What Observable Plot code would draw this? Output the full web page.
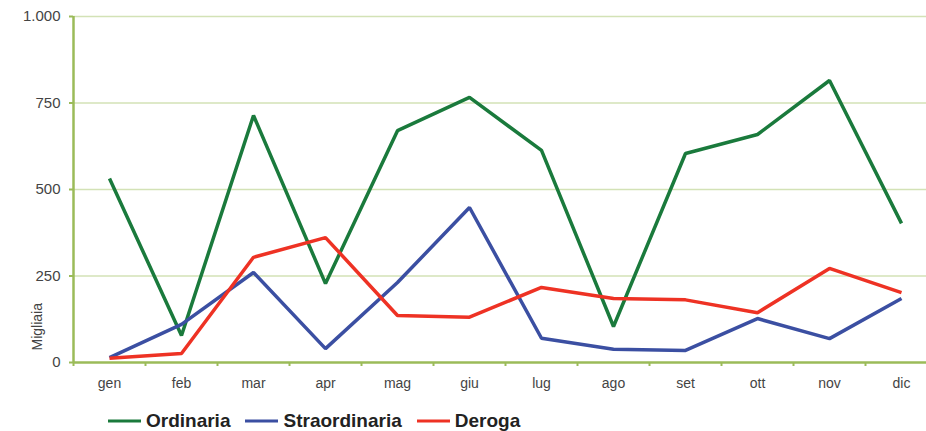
<!DOCTYPE html>
<html>
<head>
<meta charset="utf-8">
<script src="https://cdn.jsdelivr.net/npm/d3@7"></script>
<script src="https://cdn.jsdelivr.net/npm/@observablehq/plot@0.6"></script>
<style>
  html, body { margin: 0; padding: 0; background: #fff; overflow: hidden; }
  #chart { width: 926px; }
  .legend { display: flex; align-items: center; margin-left: 108px; margin-top: 6px; height: 26px;
    font-family: "Liberation Sans", Arial, sans-serif; font-weight: bold; font-size: 19px; color: #222; }
  .legend .item { display: flex; align-items: center; margin-right: 15px; }
  .legend svg { margin-right: 5px; }
</style>
</head>
<body>
<div id="chart"></div>
<script>
const months = ["gen","feb","mar","apr","mag","giu","lug","ago","set","ott","nov","dic"];
const ordinaria = [532, 78, 714, 228, 670, 766, 613, 104, 604, 659, 815, 402];
const straordinaria = [14, 110, 260, 40, 231, 448, 70, 38, 35, 127, 69, 185];
const deroga = [12, 26, 304, 361, 136, 131, 217, 185, 181, 144, 272, 202];
const seriesNames = ["Ordinaria", "Straordinaria", "Deroga"];
const seriesColors = ["#1a7a3c", "#3b4fa2", "#ee3224"];
const yTicks = [0, 250, 500, 750, 1000];

const seriesValues = [ordinaria, straordinaria, deroga];
const data = [];
seriesNames.forEach((s, k) => seriesValues[k].forEach((v, i) => data.push({series: s, i, month: months[i], value: v})));

const axisGreen = "#9bbb59";
const gridGreen = "#d3e2b6";
const fmt = d => d3.format(",")(d).replace(/,/g, ".");
const boundaries = d3.range(months.length + 1).map(i => i - 0.5);

const plot = Plot.plot({
  width: 926,
  height: 402,
  marginLeft: 73,
  marginRight: -11,
  marginTop: 16,
  marginBottom: 40,
  style: { fontFamily: "Liberation Sans, Arial, sans-serif", fontSize: "15px", color: "#333", background: "#fff" },
  x: { type: "linear", domain: [-0.5, months.length - 0.5] },
  y: { domain: [0, 1000] },
  color: { domain: seriesNames, range: seriesColors },
  marks: [
    Plot.gridY(yTicks.filter(d => d > 0), { stroke: gridGreen, strokeOpacity: 1, strokeWidth: 1.5 }),
    Plot.axisY({ ticks: yTicks, tickFormat: fmt, tickSize: 4, tickPadding: 9, stroke: axisGreen, strokeWidth: 2, fill: "#444", label: null, fontSize: 15 }),
    Plot.axisX({ ticks: boundaries, tickFormat: () => "", tickSize: 4, stroke: axisGreen, strokeWidth: 2, label: null }),
    Plot.axisX({ ticks: d3.range(months.length), tickFormat: i => months[i], tickSize: 0, tickPadding: 16, fill: "#444", label: null, fontSize: 14 }),
    Plot.ruleX([-0.5], { stroke: axisGreen, strokeWidth: 2.5 }),
    Plot.ruleY([0], { stroke: axisGreen, strokeWidth: 2.5 }),
    Plot.line(data, { x: "i", y: "value", z: "series", stroke: "series", strokeWidth: 3.5, strokeLinejoin: "miter", strokeLinecap: "butt" }),
    Plot.text(["Migliaia"], { frameAnchor: "bottom-left", rotate: -90, textAnchor: "start", dx: -32, dy: -12, fontSize: 14, fill: "#444" })
  ]
});
document.getElementById("chart").appendChild(plot);

const legend = document.createElement("div");
legend.className = "legend";
seriesNames.forEach((s, k) => {
  const item = document.createElement("div");
  item.className = "item";
  item.innerHTML = `<svg width="33" height="6"><line x1="0" x2="33" y1="3" y2="3" stroke="${seriesColors[k]}" stroke-width="3"/></svg><span>${s}</span>`;
  legend.appendChild(item);
});
document.getElementById("chart").appendChild(legend);
</script>
</body>
</html>
